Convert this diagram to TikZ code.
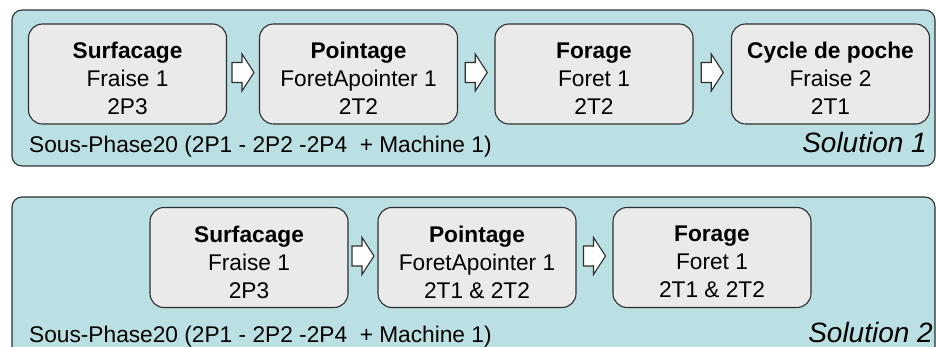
\documentclass[tikz,border=0pt]{standalone}
\usepackage{fontspec}
\setmainfont{Liberation Sans}
\usetikzlibrary{calc}
\definecolor{panelfill}{HTML}{BBE0E3}
\definecolor{boxfill}{HTML}{EAEAEA}
\definecolor{edge}{HTML}{2E2E2E}
\tikzset{
  panel/.style={draw=edge, line width=1.1pt, fill=panelfill, rounded corners=10pt, minimum width=923pt, inner sep=0pt},
  stepbox/.style={draw=edge, line width=1.1pt, fill=boxfill, rounded corners=14pt, minimum width=198pt, minimum height=100pt, inner sep=0pt},
  steptext/.style={align=center, inner sep=0pt, font=\fontsize{22.7}{28}\selectfont},
  phase/.style={anchor=base west, inner sep=0pt, font=\fontsize{22.7}{28}\selectfont},
  sol/.style={anchor=base east, inner sep=0pt, font=\fontsize{28}{32}\selectfont\itshape},
  flowline/.style={draw=edge, line width=1.1pt, fill=white, line join=miter},
  blockarrow/.pic={\path[flowline] (-11,-10) -- (-1,-10) -- (-1,-18.5) -- (11,0) -- (-1,18.5) -- (-1,10) -- (-11,10) -- cycle;}
}
\begin{document}
\begin{tikzpicture}[x=1pt,y=-1pt]
\useasboundingbox (0,0) rectangle (936,347);
\clip (0,0) rectangle (936,347);
% panel 1
\node[panel, minimum height=156pt] (p1) at (473.5,88) {};
\node[stepbox] (a1) at (127.5,74) {};
\node[stepbox] (a2) at (358.5,74) {};
\node[stepbox] (a3) at (594,74) {};
\node[stepbox] (a4) at (830.5,74) {};
\node[steptext] (a1t) at ([yshift=-4.5pt]a1.center) {\textbf{Surfacage}\\Fraise 1\\2P3};
\node[steptext] (a2t) at ([yshift=-4.5pt]a2.center) {\textbf{Pointage}\\ForetApointer 1\\2T2};
\node[steptext] (a3t) at ([yshift=-4.5pt]a3.center) {\textbf{Forage}\\Foret 1\\2T2};
\node[steptext] (a4t) at ([yshift=-4.5pt]a4.center) {\textbf{Cycle de poche}\\Fraise 2\\2T1};
\coordinate (f1) at ([yshift=1.5pt]$(a1.east)!0.5!(a2.west)$);
\coordinate (f2) at ([yshift=1.5pt]$(a2.east)!0.5!(a3.west)$);
\coordinate (f3) at ([yshift=1.5pt]$(a3.east)!0.5!(a4.west)$);
\pic at (f1) {blockarrow};
\pic at (f2) {blockarrow};
\pic at (f3) {blockarrow};
\node[phase] (ph1) at (29,153) {Sous-Phase20 (2P1 - 2P2 -2P4 \ + Machine 1)};
\node[sol] (s1) at (927,153) {Solution 1};
% panel 2
\node[panel, minimum height=170pt] (p2) at (473.5,282) {};
\node[stepbox] (b1) at (249,257.5) {};
\node[stepbox] (b2) at (477,257.5) {};
\node[stepbox] (b3) at (712,257.5) {};
\node[steptext] (b1t) at ([yshift=-4.5pt]b1.center) {\textbf{Surfacage}\\Fraise 1\\2P3};
\node[steptext] (b2t) at ([yshift=-4.5pt]b2.center) {\textbf{Pointage}\\ForetApointer 1\\2T1 \& 2T2};
\node[steptext] (b3t) at ([yshift=-4.5pt]b3.center) {\textbf{Forage}\\Foret 1\\2T1 \& 2T2};
\coordinate (g1) at ([yshift=1.5pt]$(b1.east)!0.5!(b2.west)$);
\coordinate (g2) at ([yshift=1.5pt]$(b2.east)!0.5!(b3.west)$);
\pic at (g1) {blockarrow};
\pic at (g2) {blockarrow};
\node[phase] (ph2) at (29,342) {Sous-Phase20 (2P1 - 2P2 -2P4 \ + Machine 1)};
\node[sol] (s2) at (933,342) {Solution 2};
\end{tikzpicture}
\end{document}
